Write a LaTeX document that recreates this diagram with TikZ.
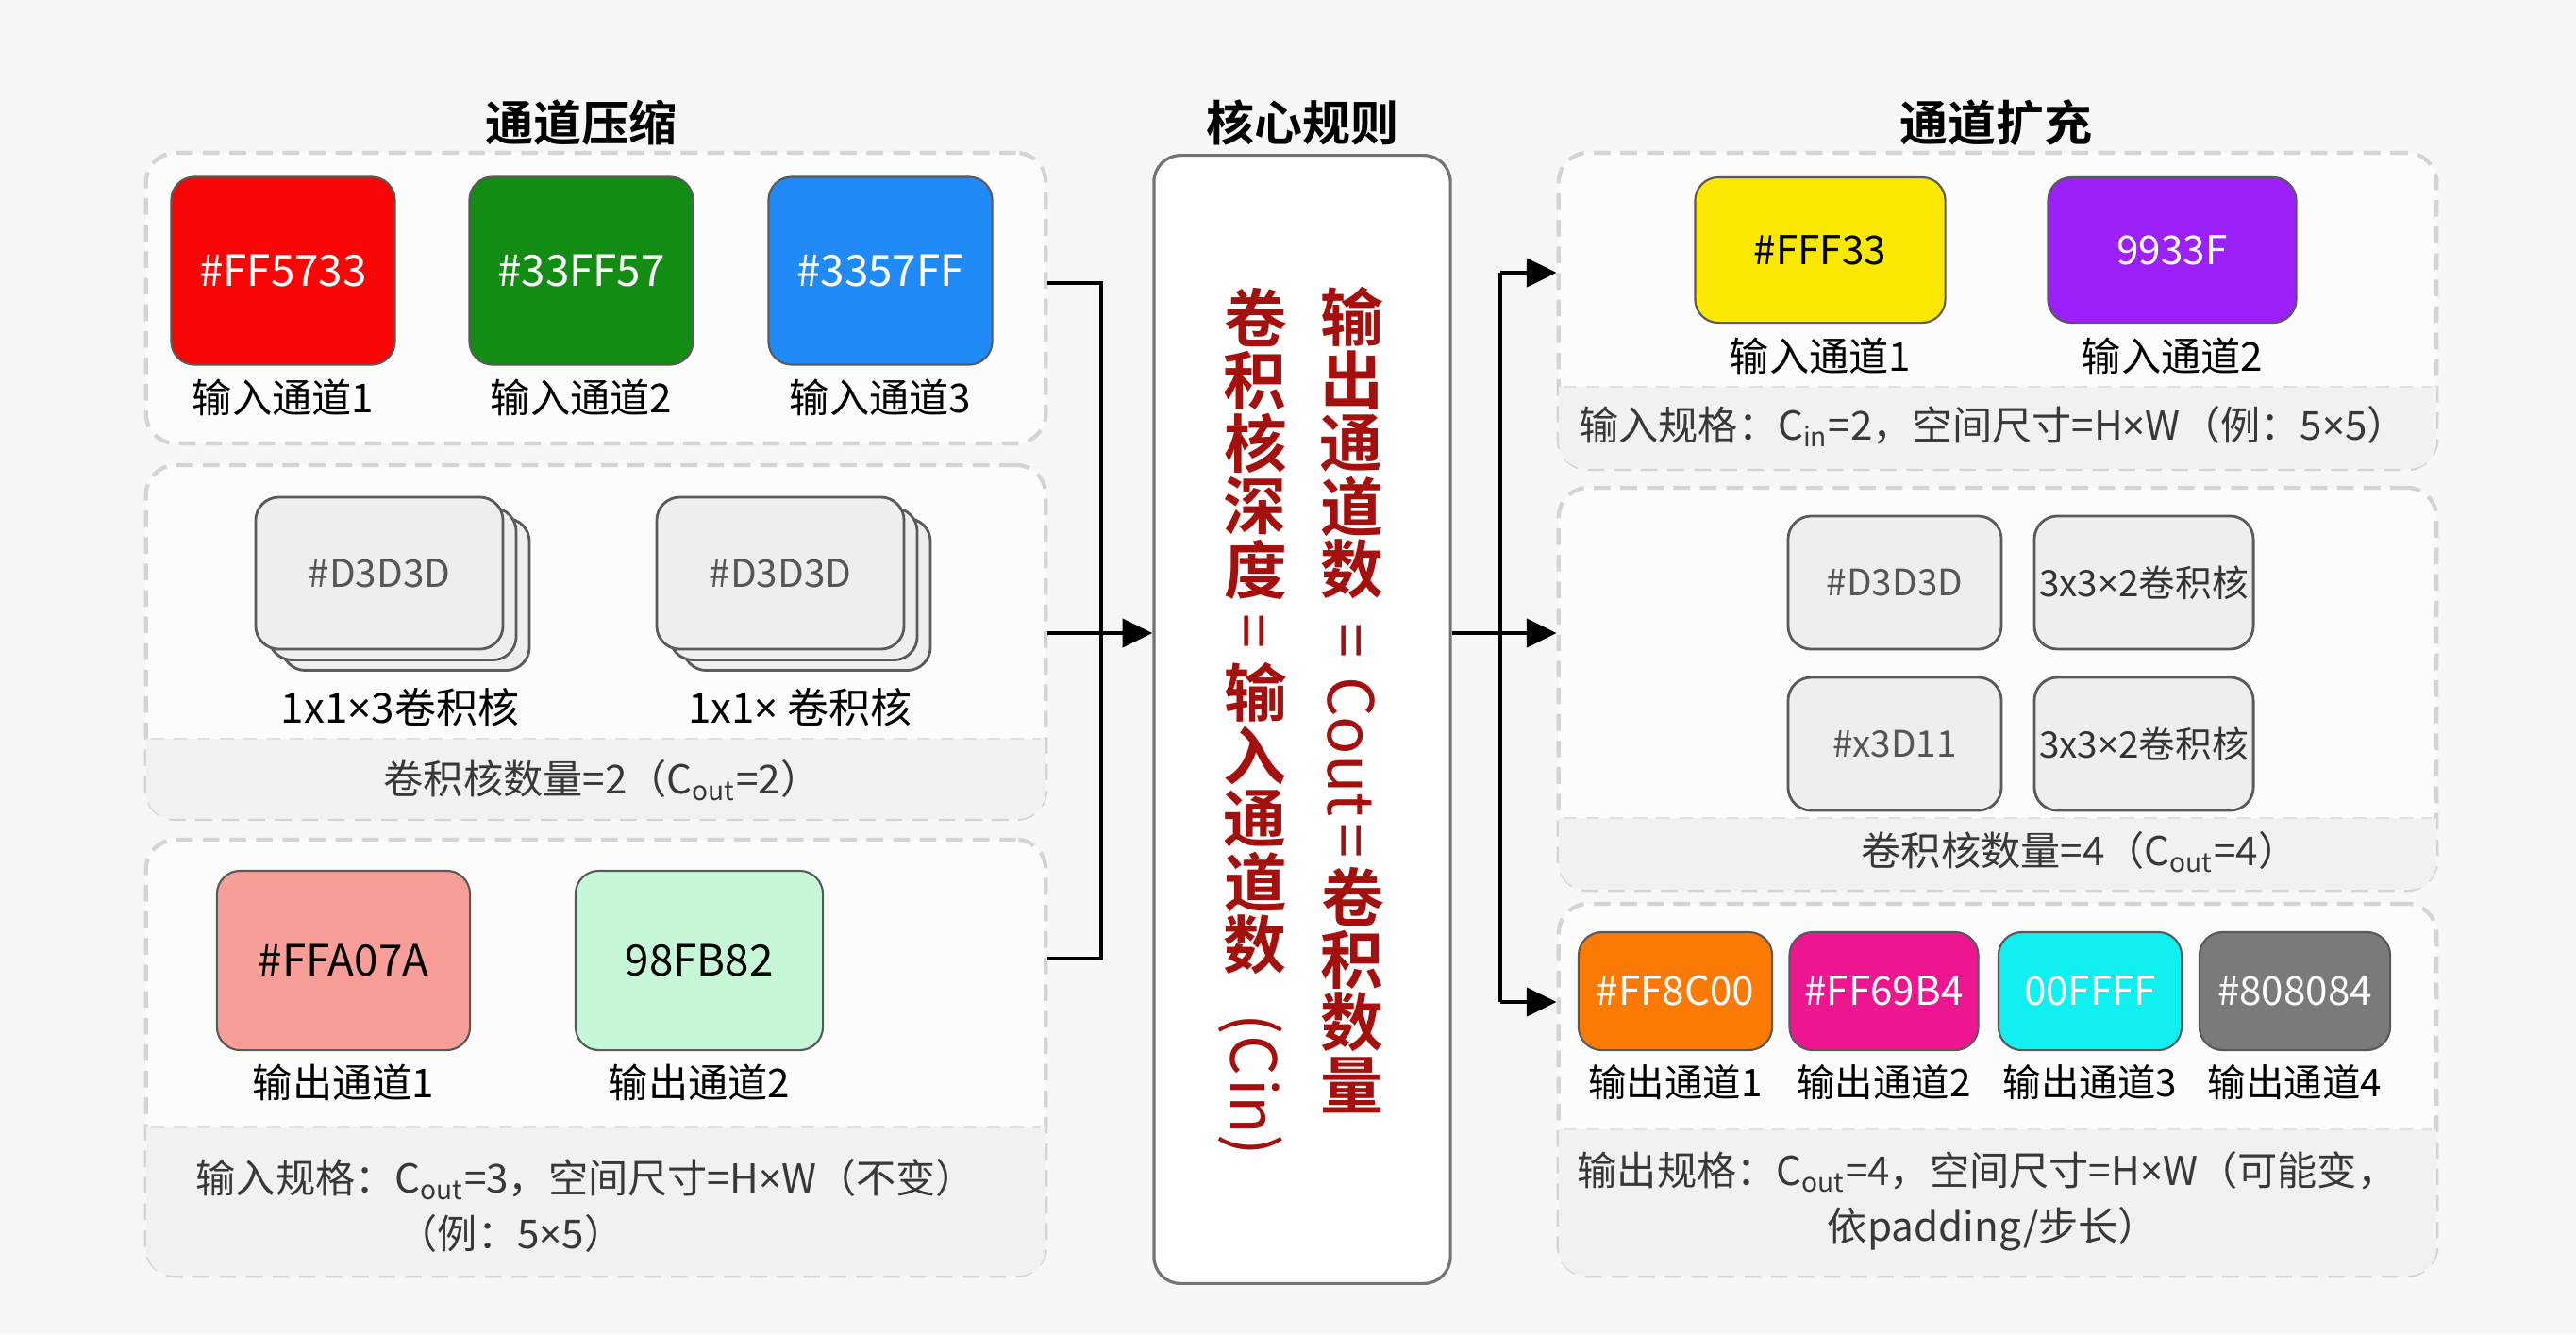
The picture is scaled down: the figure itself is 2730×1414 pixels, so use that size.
\documentclass[tikz,border=0pt]{standalone}
\usepackage{fontspec}
\setmainfont{Noto Sans CJK SC}[BoldFont={Noto Sans CJK SC Bold}]
\newfontfamily\latinf{Noto Sans}
\usetikzlibrary{calc}
\usetikzlibrary{positioning}
\usetikzlibrary{arrows.meta}
\definecolor{bgcol}{HTML}{F7F7F7}
\definecolor{boxfill}{HTML}{FCFCFC}
\definecolor{boxedge}{HTML}{D4D4D4}
\definecolor{bandcol}{HTML}{F1F1F1}
\definecolor{bandtext}{HTML}{383838}
\definecolor{kernfill}{HTML}{EEEEEE}
\definecolor{kernedge}{HTML}{5A5A5A}
\definecolor{kerntext}{HTML}{555555}
\definecolor{rulered}{HTML}{A3100E}
\definecolor{cRed}{HTML}{FA0505}
\definecolor{cGreen}{HTML}{128C12}
\definecolor{cBlue}{HTML}{1F8AF8}
\definecolor{cSalmon}{HTML}{F89E98}
\definecolor{cMint}{HTML}{C6F8D8}
\definecolor{cYellow}{HTML}{FAE800}
\definecolor{cViolet}{HTML}{9B20FA}
\definecolor{cOrange}{HTML}{FB7A05}
\definecolor{cPink}{HTML}{EE1690}
\definecolor{cCyan}{HTML}{10F0F0}
\definecolor{cGray}{HTML}{7A7A7A}
\def\fsz#1{\fontsize{#1}{#1}\selectfont}
\def\vc#1{\makebox[1em]{\rotatebox[origin=c]{90}{#1}}}
\def\tms{{\latinf ×}}

\begin{document}
\begin{tikzpicture}[x=0.01cm,y=-0.01cm,>={Triangle[length=9pt,width=8.5pt]},
	  title node/.style={inner sep=0pt,font=\bfseries\fsz{14.5pt}},
	  group box/.style={rectangle,rounded corners=9pt,draw=boxedge,fill=boxfill,line width=1.2pt,dash pattern=on 5pt off 3pt,inner sep=0pt},
	  band line/.style={draw=boxedge!70,line width=0.8pt,dash pattern=on 4pt off 3pt},
	  chan node/.style={rectangle,rounded corners=7pt,draw=black!65,line width=0.6pt,inner sep=0pt,font=\fsz{13pt}},
	  lab node/.style={inner sep=0pt,font=\fsz{12pt}},
	  kern node/.style={rectangle,rounded corners=7pt,draw=kernedge,fill=kernfill,text=kerntext,line width=0.8pt,inner sep=0pt,font=\fsz{11.5pt}},
	  band text/.style={inner sep=0pt,text=bandtext,font=\fsz{12pt}},
	  rule box/.style={rectangle,rounded corners=8pt,draw=black!55,fill=white,line width=0.9pt,inner sep=0pt},
	  rule text/.style={inner sep=0pt,text=rulered,font=\bfseries\fsz{19pt}},
	  conn/.style={line width=1.3pt,draw=black}]

	  \fill[bgcol] (0,0) rectangle (2730,1414);
	  \useasboundingbox (0,0) rectangle (2730,1414);

	  % titles
	  \node[title node] (tcmp) at (616,130) {通道压缩};
	  \node[title node] (trule) at (1380,130) {核心规则};
	  \node[title node] (texp) at (2115,130) {通道扩充};

	  % group boxes
	  \node[group box, minimum width=9.53cm, minimum height=3.08cm] (cmp1) at (631.5,316) {};
	  \node[group box, minimum width=9.53cm, minimum height=3.75cm] (cmp2) at (631.5,680.5) {};
	  \node[group box, minimum width=9.53cm, minimum height=4.62cm] (cmp3) at (631.5,1121) {};
	  \node[group box, minimum width=9.30cm, minimum height=3.35cm] (exp1) at (2117,329.5) {};
	  \node[group box, minimum width=9.30cm, minimum height=4.26cm] (exp2) at (2117,730) {};
	  \node[group box, minimum width=9.30cm, minimum height=3.94cm] (exp3) at (2117,1155) {};

	  \foreach \p/\yb in {cmp2/783,cmp3/1195,exp1/410,exp2/867,exp3/1197}{
	    \begin{scope}
	      \clip[rounded corners=8pt] ($(\p.south west)+(0.7pt,0.7pt)$) rectangle ($(\p.north east)-(0.7pt,0.7pt)$);
	      \fill[bandcol] (\p.west |- 0,\yb) rectangle (\p.south east);
	    \end{scope}
	    \draw[band line] ($(\p.west |- 0,\yb)+(2pt,0)$) -- ($(\p.east |- 0,\yb)-(2pt,0)$);
	  }

	  % input channels (compression)
	  \node[chan node, fill=cRed, text=white, minimum width=2.37cm, minimum height=1.99cm] (cin1) at (300,287) {\#FF5733};
	  \node[chan node, fill=cGreen, text=white, minimum width=2.37cm, minimum height=1.99cm] (cin2) at (616,287) {\#33FF57};
	  \node[chan node, fill=cBlue, text=white, minimum width=2.37cm, minimum height=1.99cm] (cin3) at (933,287) {\#3357FF};
	  \node[lab node, below=0.14cm of cin1] (cin1l) {输入通道1};
	  \node[lab node, below=0.14cm of cin2] (cin2l) {输入通道2};
	  \node[lab node, below=0.14cm of cin3] (cin3l) {输入通道3};

	  % 1x1 kernels
	  \node[kern node, minimum width=2.62cm, minimum height=1.61cm] (ka3) at (430,630) {};
	  \node[kern node, minimum width=2.62cm, minimum height=1.61cm] (ka2) at (416,619) {};
	  \node[kern node, minimum width=2.62cm, minimum height=1.61cm] (ka1) at (402,607.5) {\#D3D3D};
	  \node[kern node, minimum width=2.62cm, minimum height=1.61cm] (kb3) at (855,630) {};
	  \node[kern node, minimum width=2.62cm, minimum height=1.61cm] (kb2) at (841,619) {};
	  \node[kern node, minimum width=2.62cm, minimum height=1.61cm] (kb1) at (827,607.5) {\#D3D3D};
	  \node[lab node, font=\fsz{12.5pt}] (kal) at (424,750) {1x1\tms3卷积核};
	  \node[lab node, font=\fsz{12.5pt}] (kbl) at (848,750) {1x1\tms\ 卷积核};
	  \node[band text] (kcnt) at (638,827) {卷积核数量=2（C\textsubscript{out}=2）};

	  % output channels (compression)
	  \node[chan node, fill=cSalmon, minimum width=2.68cm, minimum height=1.90cm] (cout1) at (364,1018) {\#FFA07A};
	  \node[chan node, fill=cMint, minimum width=2.62cm, minimum height=1.90cm] (cout2) at (741,1018) {98FB82};
	  \node[lab node, below=0.13cm of cout1] (cout1l) {输出通道1};
	  \node[lab node, below=0.13cm of cout2] (cout2l) {输出通道2};
	  \node[band text, anchor=west] (cspec) at (207,1250) {输入规格：C\textsubscript{out}=3，空间尺寸=H\tms W（不变）};
	  \node[band text, anchor=west] (cspec2) at (421,1307) {（例：5\tms5）};

	  % core rule
	  \node[rule box, minimum width=3.14cm, minimum height=11.95cm] (rule) at (1380,762.5) {};
	  \node[rule text, rotate=-90, anchor=west] (ruleA) at (1433,302)
	    {\vc{输}\vc{出}\vc{通}\vc{道}\vc{数}{\mdseries\hspace{.35em}=\hspace{.3em}Cout\hspace{.1em}=\hspace{.1em}}\vc{卷}\vc{积}\vc{数}\vc{量}};
	  \node[rule text, rotate=-90, anchor=west] (ruleB) at (1328,302)
	    {\vc{卷}\vc{积}\vc{核}\vc{深}\vc{度}{\mdseries\hspace{.2em}=\hspace{.2em}}\vc{输}\vc{入}\vc{通}\vc{道}\vc{数}{\mdseries\hspace{.6em}(C\hspace{.05em}in)}};

	  % input channels (expansion)
	  \node[chan node, fill=cYellow, minimum width=2.65cm, minimum height=1.54cm, font=\fsz{12pt}] (ein1) at (1929,265) {\#FFF33};
	  \node[chan node, fill=cViolet, text=white, minimum width=2.63cm, minimum height=1.54cm, font=\fsz{12pt}] (ein2) at (2302,265) {9933F};
	  \node[lab node, below=0.14cm of ein1] (ein1l) {输入通道1};
	  \node[lab node, below=0.14cm of ein2] (ein2l) {输入通道2};
	  \node[band text] (espec) at (2112,452) {输入规格：C\textsubscript{in}=2，空间尺寸=H\tms W（例：5\tms5）};

	  % 3x3 kernels
	  \node[kern node, minimum width=2.26cm, minimum height=1.41cm, font=\fsz{11pt}] (kc1) at (2008,617.5) {\#D3D3D};
	  \node[kern node, minimum width=2.32cm, minimum height=1.41cm, font=\fsz{11pt}, text=black!80] (kc2) at (2272,617.5) {3x3\tms2卷积核};
	  \node[kern node, minimum width=2.26cm, minimum height=1.41cm, font=\fsz{11pt}] (kc3) at (2008,788.5) {\#x3D11};
	  \node[kern node, minimum width=2.32cm, minimum height=1.41cm, font=\fsz{11pt}, text=black!80] (kc4) at (2272,788.5) {3x3\tms2卷积核};
	  \node[band text] (ecnt) at (2204,903) {卷积核数量=4（C\textsubscript{out}=4）};

	  % output channels (expansion)
	  \node[chan node, fill=cOrange, text=white, minimum width=2.05cm, minimum height=1.25cm, font=\fsz{12pt}] (eout1) at (1775.5,1050.5) {\#FF8C00};
	  \node[chan node, fill=cPink, text=white, minimum width=2.0cm, minimum height=1.25cm, font=\fsz{12pt}] (eout2) at (1996.5,1050.5) {\#FF69B4};
	  \node[chan node, fill=cCyan, text=white, minimum width=1.94cm, minimum height=1.25cm, font=\fsz{12pt}] (eout3) at (2215,1050.5) {00FFFF};
	  \node[chan node, fill=cGray, text=white, minimum width=2.02cm, minimum height=1.25cm, font=\fsz{12pt}] (eout4) at (2432,1050.5) {\#808084};
	  \node[lab node, font=\fsz{11.5pt}, below=0.14cm of eout1] (eout1l) {输出通道1};
	  \node[lab node, font=\fsz{11.5pt}, below=0.14cm of eout2] (eout2l) {输出通道2};
	  \node[lab node, font=\fsz{11.5pt}, below=0.14cm of eout3] (eout3l) {输出通道3};
	  \node[lab node, font=\fsz{11.5pt}, below=0.14cm of eout4] (eout4l) {输出通道4};
	  \node[band text] (ospec) at (2106,1242) {输出规格：C\textsubscript{out}=4，空间尺寸=H\tms W（可能变，};
	  \node[band text] (ospec2) at (2112,1303) {依padding/步长）};

	  % connectors
	  \coordinate (lj1) at (1167,300);
	  \coordinate (lj2) at (1167,671);
	  \coordinate (lj3) at (1167,1016);
	  \coordinate (rj1) at (1590,289);
	  \coordinate (rj2) at (1590,671);
	  \coordinate (rj3) at (1590,1062);
	  \draw[conn] (cmp1.east |- lj1) -- (lj1) -- (lj3) -- (cmp3.east |- lj3);
	  \draw[conn,->] (cmp2.east |- lj2) -- (rule.west |- lj2);
	  \draw[conn] (rule.east |- rj2) -- (rj2);
	  \draw[conn] (rj1) -- (rj3);
	  \path[conn]
	    	(rj1) 	edge[->] 	(exp1.west |- rj1)
	    	(rj2) 	edge[->] 	(exp2.west |- rj2)
	    	(rj3) 	edge[->] 	(exp3.west |- rj3);
\end{tikzpicture}
\end{document}
